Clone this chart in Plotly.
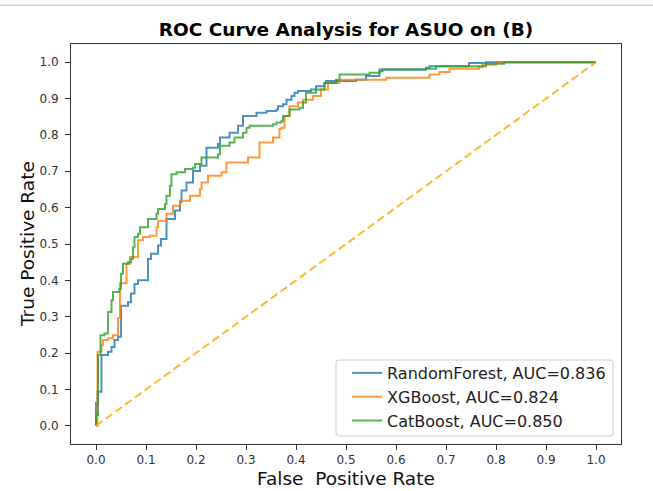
import plotly.graph_objects as go

# ---- data ----
rf_fpr = [0.0, 0.0, 0.003, 0.011, 0.024, 0.031, 0.037, 0.044, 0.05, 0.064, 0.07, 0.077, 0.084,
          0.104, 0.11, 0.124, 0.13, 0.141, 0.158, 0.168, 0.171, 0.181, 0.194, 0.208, 0.221,
          0.244, 0.248, 0.267, 0.284, 0.294, 0.321, 0.341, 0.361, 0.364, 0.374, 0.381, 0.391,
          0.397, 0.404, 0.43, 0.44, 0.457, 0.46, 0.52, 0.54, 0.567, 0.573, 0.66, 0.667, 0.746,
          0.78, 1.0]
rf_tpr = [0.0, 0.063, 0.094, 0.195, 0.204, 0.217, 0.236, 0.245, 0.33, 0.34, 0.364, 0.39, 0.40,
          0.459, 0.473, 0.496, 0.514, 0.569, 0.592, 0.615, 0.647, 0.669, 0.701, 0.715, 0.765,
          0.775, 0.793, 0.806, 0.825, 0.852, 0.861, 0.866, 0.87, 0.879, 0.884, 0.897, 0.907,
          0.916, 0.921, 0.925, 0.934, 0.943, 0.948, 0.952, 0.962, 0.975, 0.98, 0.985, 0.989, 0.998,
          1.0, 1.0]

xgb_fpr = [0.0, 0.003, 0.011, 0.014, 0.024, 0.034, 0.044, 0.048, 0.061, 0.068, 0.084, 0.094,
           0.108, 0.121, 0.124, 0.141, 0.154, 0.168, 0.188, 0.208, 0.211, 0.224, 0.251, 0.261,
           0.301, 0.304, 0.327, 0.327, 0.354, 0.367, 0.371, 0.377, 0.387, 0.404, 0.414, 0.434,
           0.45, 0.464, 0.487, 0.58, 0.667, 0.687, 0.707, 0.766, 0.773, 0.8, 1.0]
xgb_tpr = [0.0, 0.204, 0.222, 0.236, 0.241, 0.249, 0.296, 0.392, 0.446, 0.464, 0.51, 0.519,
           0.523, 0.546, 0.564, 0.583, 0.605, 0.619, 0.633, 0.651, 0.669, 0.688, 0.697, 0.724,
           0.724, 0.738, 0.752, 0.779, 0.793, 0.816, 0.82, 0.852, 0.879, 0.889, 0.897, 0.907,
           0.925, 0.943, 0.952, 0.957, 0.966, 0.973, 0.982, 0.986, 0.993, 1.0, 1.0]

cat_fpr = [0.0, 0.0, 0.004, 0.009, 0.017, 0.024, 0.031, 0.034, 0.047, 0.05, 0.054, 0.064, 0.07,
           0.074, 0.077, 0.084, 0.088, 0.104, 0.121, 0.124, 0.138, 0.141, 0.148, 0.151, 0.161,
           0.178, 0.194, 0.198, 0.211, 0.244, 0.248, 0.267, 0.277, 0.294, 0.301, 0.307, 0.354,
           0.361, 0.371, 0.374, 0.387, 0.407, 0.414, 0.42, 0.44, 0.457, 0.48, 0.487, 0.547,
           0.567, 0.66, 0.68, 0.78, 0.816, 1.0]
cat_tpr = [0.0, 0.03, 0.195, 0.249, 0.254, 0.313, 0.345, 0.368, 0.377, 0.418, 0.446, 0.45, 0.459,
           0.491, 0.519, 0.528, 0.546, 0.569, 0.583, 0.596, 0.61, 0.633, 0.66, 0.692, 0.697,
           0.706, 0.71, 0.72, 0.738, 0.747, 0.77, 0.779, 0.793, 0.806, 0.82, 0.825, 0.829,
           0.834, 0.838, 0.852, 0.87, 0.875, 0.889, 0.916, 0.925, 0.943, 0.952, 0.966, 0.971,
           0.98, 0.982, 0.989, 0.996, 1.0, 1.0]

chance_x = [0.0, 1.0]
chance_y = [0.0, 1.0]

series_names = ["RandomForest, AUC=0.836", "XGBoost, AUC=0.824", "CatBoost, AUC=0.850"]
tick_vals = [0.0, 0.1, 0.2, 0.3, 0.4, 0.5, 0.6, 0.7, 0.8, 0.9, 1.0]
tick_text = ["0.0", "0.1", "0.2", "0.3", "0.4", "0.5", "0.6", "0.7", "0.8", "0.9", "1.0"]

FONT = "DejaVu Sans"
colors = ["rgba(31,119,180,0.8)", "rgba(255,127,14,0.8)", "rgba(44,160,44,0.8)"]

fig = go.Figure()
for i, (fx, fy) in enumerate([(rf_fpr, rf_tpr), (xgb_fpr, xgb_tpr), (cat_fpr, cat_tpr)]):
    fig.add_trace(go.Scatter(
        x=fx, y=fy, mode="lines", name=series_names[i],
        line=dict(color=colors[i], width=2, shape="hv"),
        legendgroup=f"g{i}",
    ))
fig.add_trace(go.Scatter(
    x=chance_x, y=chance_y, mode="lines", showlegend=False,
    line=dict(color="rgba(255,165,0,0.8)", width=2, dash="8px,4px"),
))

axis_common = dict(
    range=[-0.05, 1.05], tickvals=tick_vals, ticktext=tick_text,
    showline=True, mirror=True, linecolor="#333333", linewidth=1,
    ticks="outside", ticklen=5, tickcolor="#333333", tickwidth=1,
    showgrid=False, zeroline=False, automargin=False,
    tickfont=dict(family=FONT, size=12, color="#333333"),
)

# rounded legend frame (matplotlib style), in paper coordinates
lx0, lx1, ly0, ly1 = 0.4818, 0.9855, 0.02, 0.21
rx, ry = 3 / 550, 3 / 400
legend_path = (f"M {lx0+rx},{ly0} L {lx1-rx},{ly0} Q {lx1},{ly0} {lx1},{ly0+ry} "
               f"L {lx1},{ly1-ry} Q {lx1},{ly1} {lx1-rx},{ly1} L {lx0+rx},{ly1} "
               f"Q {lx0},{ly1} {lx0},{ly1-ry} L {lx0},{ly0+ry} Q {lx0},{ly0} {lx0+rx},{ly0} Z")

fig.update_layout(
    width=653, height=491,
    margin=dict(l=71, r=32, t=44, b=47),
    paper_bgcolor="white", plot_bgcolor="white",
    title=dict(text="ROC Curve Analysis for ASUO on (B)", x=0.5, xref="paper", xanchor="center",
               y=0.9406, yref="container", yanchor="middle", automargin=False,
               font=dict(family=FONT, size=18.5, color="black", weight="bold")),
    xaxis=dict(**axis_common),
    yaxis=dict(**axis_common, ticklabelstandoff=4),
    annotations=[
        dict(text="False\u00a0 Positive Rate", xref="paper", yref="paper", x=0.5, y=-34 / 400,
             xanchor="center", yanchor="middle", showarrow=False,
             font=dict(family=FONT, size=18.5, color="#111111")),
        dict(text="True Positive Rate", xref="paper", yref="paper", x=-44 / 550, y=0.5,
             xanchor="center", yanchor="middle", showarrow=False, textangle=-90,
             font=dict(family=FONT, size=18.5, color="#111111")),
    ],
    legend=dict(x=0.982, xanchor="right", y=0.22, yanchor="top",
                bgcolor="rgba(0,0,0,0)", borderwidth=0,
                font=dict(family=FONT, size=16, color="#222222"), tracegroupgap=0,
                itemwidth=30),
    shapes=[
        dict(type="line", xref="paper", yref="paper", x0=-0.15, x1=1.1, y0=1.0967, y1=1.0967,
             line=dict(color="#cfcfcf", width=1.5), layer="above"),
        dict(type="path", xref="paper", yref="paper", path=legend_path, layer="above",
             fillcolor="rgba(255,255,255,0.8)", line=dict(color="#d0d0d0", width=1)),
    ],
)

fig.write_html("out.html", config={"displayModeBar": False},
               post_script="document.body.style.margin='0';")
